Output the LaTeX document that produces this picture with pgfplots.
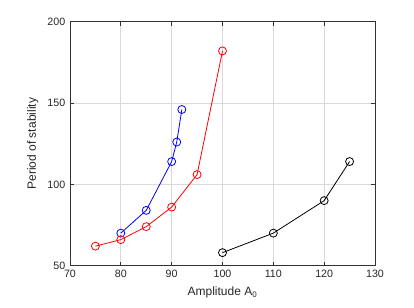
\documentclass[border=0pt]{standalone}
\usepackage{fontspec}
\setmainfont{Liberation Sans}
\usepackage{pgfplots}
\pgfplotsset{compat=1.18}
\begin{document}
\begin{tikzpicture}
\useasboundingbox (0,0) rectangle (310.5pt,230.25pt);
\begin{axis}[
  at={(52.5pt,31pt)}, anchor=south west,
  scale only axis, width=228.75pt, height=183pt,
  xmin=70, xmax=130, ymin=50, ymax=200,
  xtick={70,80,...,130}, ytick={50,100,150,200},
  grid=major, grid style={black!15, line width=0.5pt},
  axis line style={black!80, line width=0.6pt},
  tick style={black!80, line width=0.5pt},
  tick align=inside, major tick length=3pt,
  tick label style={font=\fontsize{8}{9}\selectfont, text=black!85},
  /pgf/number format/assume math mode=true,
  xlabel={Amplitude A\textsubscript{0}},
  ylabel={Period of stability},
  label style={font=\fontsize{9}{10}\selectfont, text=black!85},
  every axis plot/.append style={line width=0.6pt, mark=o, mark size=3pt, mark options={solid, line width=0.6pt}},
]
\addplot[blue] coordinates {(80,70) (85,84) (90,114) (91,126) (92,146)};
\addplot[red] coordinates {(75,62) (80,66) (85,74) (90,86) (95,106) (100,182)};
\addplot[black] coordinates {(100,58) (110,70) (120,90) (125,114)};
\end{axis}
\end{tikzpicture}
\end{document}
